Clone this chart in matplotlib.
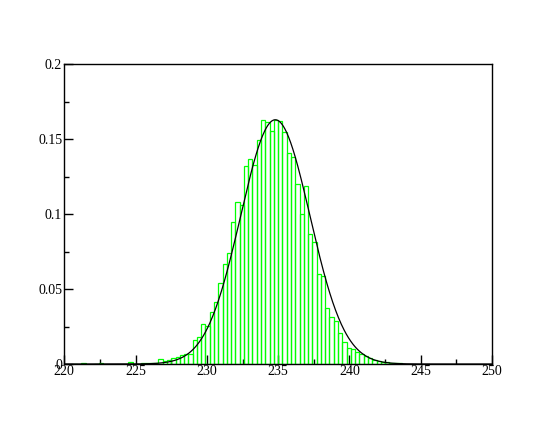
import numpy as np
import matplotlib
matplotlib.use("Agg")
import matplotlib.pyplot as plt

# ---- data ----
bin_start = 220.0
bin_width = 0.3
# density of each 0.3-wide bin from 220 to 250 (100 bins)
density = [
    0, 0, 0.0003, 0, 0.0004, 0, 0, 0.0003, 0.0004, 0,            # 0-9
    0, 0, 0, 0, 0, 0.0011, 0, 0, 0.0004, 0.0004,                  # 10-19
    0.0004, 0.0004, 0.0032, 0.002, 0.0027, 0.0038, 0.005, 0.006, 0.0065, 0.0068,  # 20-29
    0.016, 0.0178, 0.0265, 0.0254, 0.035, 0.0416, 0.054, 0.067, 0.074, 0.0948,    # 30-39
    0.108, 0.106, 0.132, 0.137, 0.133, 0.1495, 0.163, 0.1615, 0.1555, 0.163,      # 40-49
    0.162, 0.155, 0.141, 0.138, 0.12, 0.0999, 0.1188, 0.0865, 0.0812, 0.0598,     # 50-59
    0.0587, 0.0372, 0.0311, 0.0285, 0.021, 0.0145, 0.0105, 0.010, 0.0078, 0.0068, # 60-69
    0.0052, 0.0038, 0.0028, 0.0022, 0.0016, 0.0012, 0.001, 0.0008, 0.0005, 0,     # 70-79
    0, 0, 0, 0, 0, 0, 0, 0, 0, 0,                                  # 80-89
    0, 0, 0, 0, 0, 0, 0, 0, 0, 0,                                  # 90-99
]
# Gaussian fit drawn over the histogram
fit_mean = 234.8
fit_sigma = 2.43
fit_peak = 0.163

x_ticks = [220, 225, 230, 235, 240, 245, 250]
x_ticklabels = ["220", "225", "230", "235", "240", "245", "250"]
y_ticks = [0, 0.05, 0.1, 0.15, 0.2]
y_ticklabels = ["0", "0.05", "0.1", "0.15", "0.2"]

# ---- figure ----
W, H = 555, 429
fig = plt.figure(figsize=(W / 100, H / 100), dpi=100)
L, R, T, B = 64.3, 492.0, 64.3, 364.0
ax = fig.add_axes([L / W, (H - B) / H, (R - L) / W, (B - T) / H])

dens = np.array(density)
lefts = bin_start + bin_width * np.arange(len(dens))
mask = dens > 0
ax.bar(lefts[mask], dens[mask], width=bin_width, align="edge",
       fill=False, edgecolor="#00ff00", linewidth=0.9, zorder=2)

xs = np.linspace(220, 250, 600)
ys = fit_peak * np.exp(-0.5 * ((xs - fit_mean) / fit_sigma) ** 2)
ax.plot(xs, ys, color="black", linewidth=0.9, zorder=3)

ax.set_xlim(220, 250)
ax.set_ylim(0, 0.2)
ax.set_xticks(x_ticks)
ax.set_xticklabels(x_ticklabels)
ax.set_yticks(y_ticks)
ax.set_yticklabels(y_ticklabels)
ax.set_xticks(np.array(x_ticks[:-1]) + 2.5, minor=True)
ax.set_yticks(np.array(y_ticks[:-1]) + 0.025, minor=True)

for lab in ax.get_xticklabels() + ax.get_yticklabels():
    lab.set_fontfamily("Liberation Serif")
    lab.set_fontsize(10)

ax.tick_params(which="major", direction="in", length=6.5, width=1.0, pad=1.5)
ax.tick_params(which="minor", direction="in", length=3.6, width=1.0)
ax.tick_params(axis="x", which="major", pad=1.0)
for s in ax.spines.values():
    s.set_linewidth(1.0)
    s.set_zorder(4)

fig.savefig("out.png", dpi=100)
